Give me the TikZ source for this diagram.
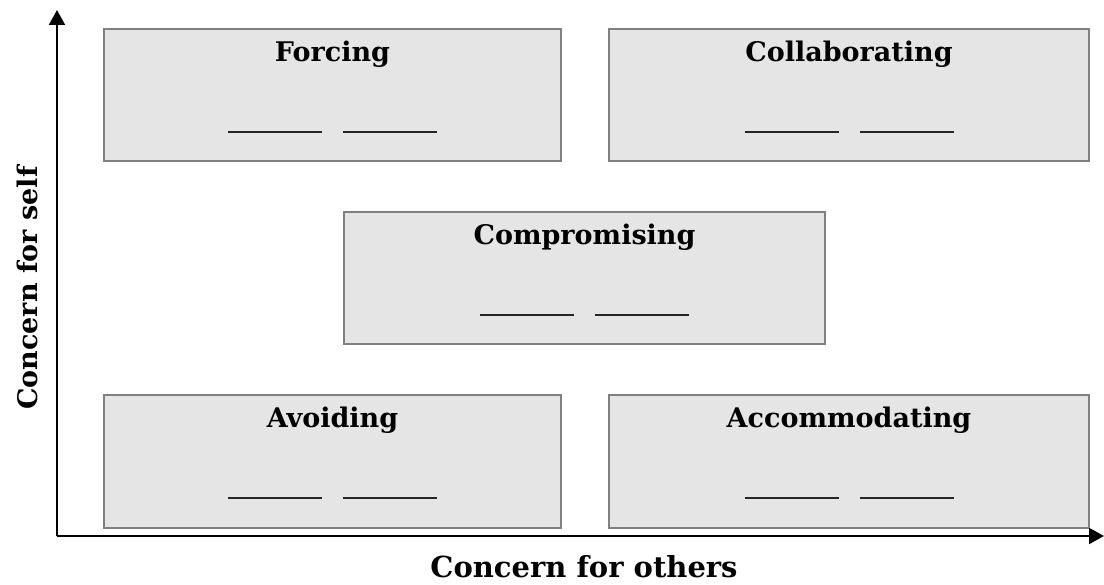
\documentclass[tikz,border=0pt]{standalone}
\usepackage{fontspec}
\setmainfont{DejaVu Serif}
\usetikzlibrary{arrows.meta}
\definecolor{boxfill}{HTML}{E5E5E5}
\definecolor{boxline}{HTML}{808080}
\tikzset{
  stylebox/.style={draw=boxline, fill=boxfill, line width=2pt, inner sep=0pt},
  boxtitle/.style={anchor=base, inner sep=0pt, font=\bfseries\fontsize{27}{32}\selectfont},
  blank/.style={inner sep=0pt, anchor=center},
  axislabel/.style={inner sep=0pt, font=\bfseries\fontsize{29}{34}\selectfont},
  axisline/.style={line width=2pt, -{Triangle[width=16pt,length=15pt]}}
}
\newcommand{\blankline}{\textcolor{black!85}{\rule{94pt}{2pt}}}
\begin{document}
\begin{tikzpicture}[x=1pt,y=-1pt]
\useasboundingbox (0,0) rectangle (1104,585);
% boxes
\node[stylebox, minimum width=457pt, minimum height=132pt] (forcing) at (332.5,95) {};
\node[stylebox, minimum width=480pt, minimum height=132pt] (collab) at (849,95) {};
\node[stylebox, minimum width=481pt, minimum height=132pt] (comprom) at (584.5,278) {};
\node[stylebox, minimum width=457pt, minimum height=133pt] (avoid) at (332.5,461.5) {};
\node[stylebox, minimum width=480pt, minimum height=133pt] (accom) at (849,461.5) {};
% titles
\node[boxtitle] (forcingT) at ([yshift=-34pt]forcing.north) {Forcing};
\node[boxtitle] (collabT) at ([yshift=-34pt]collab.north) {Collaborating};
\node[boxtitle] (compromT) at ([yshift=-34pt]comprom.north) {Compromising};
\node[boxtitle] (avoidT) at ([yshift=-34pt]avoid.north) {Avoiding};
\node[boxtitle] (accomT) at ([yshift=-34pt]accom.north) {Accommodating};
% blanks
\foreach \b in {forcing,collab,comprom,avoid,accom}{
  \node[blank] (\b L) at ([xshift=-57.5pt,yshift=-104pt]\b.north) {\blankline};
  \node[blank] (\b R) at ([xshift=57.5pt,yshift=-104pt]\b.north) {\blankline};
}
% axes
\coordinate (origin) at (57,536);
\coordinate (ytip) at (57,10);
\coordinate (xtip) at (1104,536);
\draw[axisline] (origin) -- (ytip);
\draw[axisline] (origin) -- (xtip);
\node[axislabel, anchor=base] (xlabel) at (584,577) {Concern for others};
\node[axislabel, rotate=90, anchor=base, font=\bfseries\fontsize{27}{32}\selectfont] (ylabel) at (37,288) {Concern for self};
\end{tikzpicture}
\end{document}
